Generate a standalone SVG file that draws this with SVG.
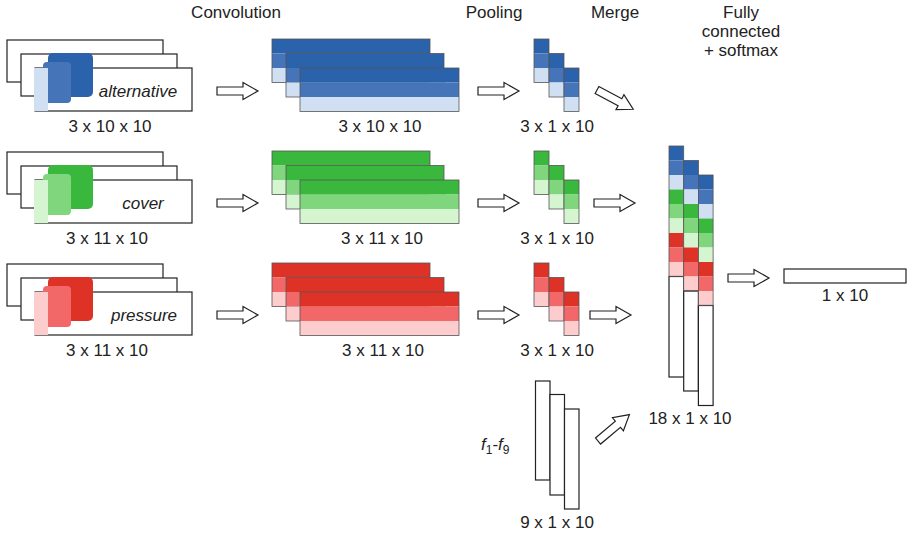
<svg xmlns="http://www.w3.org/2000/svg" width="908" height="537" viewBox="0 0 908 537">
<style>
text{font-family:"Liberation Sans",Arial,sans-serif;font-size:17px;fill:#222}
.c{text-anchor:middle}
.it{font-style:italic}
.box{fill:#fff;stroke:#222;stroke-width:1.2}
.arr{fill:#fff;stroke:#222;stroke-width:1.2;stroke-linejoin:miter}
.ol{fill:none;stroke:#555;stroke-width:0.8}
.b1{fill:#2A62AC}.b2{fill:#4674B9}.b3{fill:#D0E0F2}
.g1{fill:#3AB83E}.g2{fill:#80D67C}.g3{fill:#D5F4D0}
.r1{fill:#DE3226}.r2{fill:#F26868}.r3{fill:#FDCCCC}
</style>
<defs>
<path id="arrow" class="arr" d="M0,-4 H26 V-8.5 L41,0 L26,8.5 V4 H0 Z"/>
<g id="stk">
<rect x="0" y="0" width="158" height="14.5"/>
</g>
</defs>

<g id="headers">
<text class="c" x="236" y="18">Convolution</text>
<text class="c" x="494" y="18">Pooling</text>
<text class="c" x="615" y="18">Merge</text>
<text class="c" x="741" y="18">Fully</text>
<text class="c" x="741" y="37">connected</text>
<text class="c" x="741" y="56">+ softmax</text>
</g>

<!-- Row 1: alternative -->
<g id="input-alternative">
<rect class="box" x="7" y="40" width="156" height="42"/>
<rect class="box" x="21" y="54" width="156" height="42"/>
<rect class="box" x="35" y="68" width="157" height="43"/>
<rect class="b1" x="48" y="53" width="45" height="44" rx="5"/>
<rect class="b2" x="43" y="62" width="28" height="41" rx="4"/>
<rect class="b3" x="34" y="68" width="14" height="43"/>
<text class="c it" x="138" y="97">alternative</text>
<text class="c" x="110" y="132">3 x 10 x 10</text>
</g>
<g id="conv-alternative">
<g transform="translate(272,39)"><rect class="b1" width="158" height="14.5"/><rect class="b2" y="14.5" width="158" height="14.5"/><rect class="b3" y="29" width="158" height="14.5"/><rect class="ol" width="158" height="43.5"/></g>
<g transform="translate(286,53.5)"><rect class="b1" width="158" height="14.5"/><rect class="b2" y="14.5" width="158" height="14.5"/><rect class="b3" y="29" width="158" height="14.5"/><rect class="ol" width="158" height="43.5"/></g>
<g transform="translate(300,68)"><rect class="b1" width="159" height="14.5"/><rect class="b2" y="14.5" width="159" height="14.5"/><rect class="b3" y="29" width="159" height="14.5"/><rect class="ol" width="159" height="43.5"/></g>
<text class="c" x="380" y="132">3 x 10 x 10</text>
</g>
<g id="pool-alternative">
<g transform="translate(534,39)"><rect class="b1" width="15" height="14.5"/><rect class="b2" y="14.5" width="15" height="14.5"/><rect class="b3" y="29" width="15" height="14.5"/><rect class="ol" width="15" height="43.5"/></g>
<g transform="translate(549,53.5)"><rect class="b1" width="15" height="14.5"/><rect class="b2" y="14.5" width="15" height="14.5"/><rect class="b3" y="29" width="15" height="14.5"/><rect class="ol" width="15" height="43.5"/></g>
<g transform="translate(564,68)"><rect class="b1" width="15" height="14.5"/><rect class="b2" y="14.5" width="15" height="14.5"/><rect class="b3" y="29" width="15" height="14.5"/><rect class="ol" width="15" height="43.5"/></g>
<text class="c" x="557" y="132">3 x 1 x 10</text>
</g>

<!-- Row 2: cover -->
<g id="input-cover">
<rect class="box" x="7" y="152" width="156" height="42"/>
<rect class="box" x="21" y="166" width="156" height="42"/>
<rect class="box" x="35" y="180" width="157" height="43"/>
<rect class="g1" x="48" y="165" width="45" height="44" rx="5"/>
<rect class="g2" x="43" y="174" width="28" height="41" rx="4"/>
<rect class="g3" x="34" y="180" width="14" height="43"/>
<text class="c it" x="143" y="209">cover</text>
<text class="c" x="107" y="244">3 x 11 x 10</text>
</g>
<g id="conv-cover">
<g transform="translate(272,151)"><rect class="g1" width="158" height="14.5"/><rect class="g2" y="14.5" width="158" height="14.5"/><rect class="g3" y="29" width="158" height="14.5"/><rect class="ol" width="158" height="43.5"/></g>
<g transform="translate(286,165.5)"><rect class="g1" width="158" height="14.5"/><rect class="g2" y="14.5" width="158" height="14.5"/><rect class="g3" y="29" width="158" height="14.5"/><rect class="ol" width="158" height="43.5"/></g>
<g transform="translate(300,180)"><rect class="g1" width="159" height="14.5"/><rect class="g2" y="14.5" width="159" height="14.5"/><rect class="g3" y="29" width="159" height="14.5"/><rect class="ol" width="159" height="43.5"/></g>
<text class="c" x="382" y="244">3 x 11 x 10</text>
</g>
<g id="pool-cover">
<g transform="translate(534,151)"><rect class="g1" width="15" height="14.5"/><rect class="g2" y="14.5" width="15" height="14.5"/><rect class="g3" y="29" width="15" height="14.5"/><rect class="ol" width="15" height="43.5"/></g>
<g transform="translate(549,165.5)"><rect class="g1" width="15" height="14.5"/><rect class="g2" y="14.5" width="15" height="14.5"/><rect class="g3" y="29" width="15" height="14.5"/><rect class="ol" width="15" height="43.5"/></g>
<g transform="translate(564,180)"><rect class="g1" width="15" height="14.5"/><rect class="g2" y="14.5" width="15" height="14.5"/><rect class="g3" y="29" width="15" height="14.5"/><rect class="ol" width="15" height="43.5"/></g>
<text class="c" x="557" y="244">3 x 1 x 10</text>
</g>

<!-- Row 3: pressure -->
<g id="input-pressure">
<rect class="box" x="7" y="264" width="156" height="42"/>
<rect class="box" x="21" y="278" width="156" height="42"/>
<rect class="box" x="35" y="292" width="157" height="43"/>
<rect class="r1" x="48" y="277" width="45" height="44" rx="5"/>
<rect class="r2" x="43" y="286" width="28" height="41" rx="4"/>
<rect class="r3" x="34" y="292" width="14" height="43"/>
<text class="c it" x="144" y="321">pressure</text>
<text class="c" x="107" y="356">3 x 11 x 10</text>
</g>
<g id="conv-pressure">
<g transform="translate(272,263)"><rect class="r1" width="158" height="14.5"/><rect class="r2" y="14.5" width="158" height="14.5"/><rect class="r3" y="29" width="158" height="14.5"/><rect class="ol" width="158" height="43.5"/></g>
<g transform="translate(286,277.5)"><rect class="r1" width="158" height="14.5"/><rect class="r2" y="14.5" width="158" height="14.5"/><rect class="r3" y="29" width="158" height="14.5"/><rect class="ol" width="158" height="43.5"/></g>
<g transform="translate(300,292)"><rect class="r1" width="159" height="14.5"/><rect class="r2" y="14.5" width="159" height="14.5"/><rect class="r3" y="29" width="159" height="14.5"/><rect class="ol" width="159" height="43.5"/></g>
<text class="c" x="383" y="356">3 x 11 x 10</text>
</g>
<g id="pool-pressure">
<g transform="translate(534,263)"><rect class="r1" width="15" height="14.5"/><rect class="r2" y="14.5" width="15" height="14.5"/><rect class="r3" y="29" width="15" height="14.5"/><rect class="ol" width="15" height="43.5"/></g>
<g transform="translate(549,277.5)"><rect class="r1" width="15" height="14.5"/><rect class="r2" y="14.5" width="15" height="14.5"/><rect class="r3" y="29" width="15" height="14.5"/><rect class="ol" width="15" height="43.5"/></g>
<g transform="translate(564,292)"><rect class="r1" width="15" height="14.5"/><rect class="r2" y="14.5" width="15" height="14.5"/><rect class="r3" y="29" width="15" height="14.5"/><rect class="ol" width="15" height="43.5"/></g>
<text class="c" x="557" y="356">3 x 1 x 10</text>
</g>

<!-- Features f1-f9 -->
<g id="features">
<rect class="box" x="535.5" y="381" width="14.5" height="99"/>
<rect class="box" x="550" y="394.5" width="14.5" height="100.5"/>
<rect class="box" x="564.5" y="409" width="14.5" height="100"/>
<text x="481" y="450"><tspan class="it">f</tspan><tspan font-size="12" dy="4">1</tspan><tspan dy="-4">-</tspan><tspan class="it">f</tspan><tspan font-size="12" dy="4">9</tspan></text>
<text class="c" x="557" y="528">9 x 1 x 10</text>
</g>

<!-- Merge -->
<g id="merge">
<g transform="translate(669,146)">
<rect class="b1" width="14.7" height="14.5"/><rect class="b2" y="14.5" width="14.7" height="14.5"/><rect class="b3" y="29" width="14.7" height="14.5"/>
<rect class="g1" y="43.5" width="14.7" height="14.5"/><rect class="g2" y="58" width="14.7" height="14.5"/><rect class="g3" y="72.5" width="14.7" height="14.5"/>
<rect class="r1" y="87" width="14.7" height="14.5"/><rect class="r2" y="101.5" width="14.7" height="14.5"/><rect class="r3" y="116" width="14.7" height="14.5"/>
<rect class="box" y="130.5" width="14.7" height="100.5"/>
<rect class="ol" width="14.7" height="130.5"/>
</g>
<g transform="translate(683.7,160.5)">
<rect class="b1" width="14.7" height="14.5"/><rect class="b2" y="14.5" width="14.7" height="14.5"/><rect class="b3" y="29" width="14.7" height="14.5"/>
<rect class="g1" y="43.5" width="14.7" height="14.5"/><rect class="g2" y="58" width="14.7" height="14.5"/><rect class="g3" y="72.5" width="14.7" height="14.5"/>
<rect class="r1" y="87" width="14.7" height="14.5"/><rect class="r2" y="101.5" width="14.7" height="14.5"/><rect class="r3" y="116" width="14.7" height="14.5"/>
<rect class="box" y="130.5" width="14.7" height="100"/>
<rect class="ol" width="14.7" height="130.5"/>
</g>
<g transform="translate(698.4,175)">
<rect class="b1" width="14.7" height="14.5"/><rect class="b2" y="14.5" width="14.7" height="14.5"/><rect class="b3" y="29" width="14.7" height="14.5"/>
<rect class="g1" y="43.5" width="14.7" height="14.5"/><rect class="g2" y="58" width="14.7" height="14.5"/><rect class="g3" y="72.5" width="14.7" height="14.5"/>
<rect class="r1" y="87" width="14.7" height="14.5"/><rect class="r2" y="101.5" width="14.7" height="14.5"/><rect class="r3" y="116" width="14.7" height="14.5"/>
<rect class="box" y="130.5" width="14.7" height="100"/>
<rect class="ol" width="14.7" height="130.5"/>
</g>
<text class="c" x="690" y="424">18 x 1 x 10</text>
</g>

<!-- Output -->
<g id="output">
<rect class="box" x="784" y="269" width="122" height="14"/>
<text class="c" x="845" y="301">1 x 10</text>
</g>

<g id="connectors">
<use href="#arrow" transform="translate(217,91)"/>
<use href="#arrow" transform="translate(478,91)"/>
<use href="#arrow" transform="translate(597,90) rotate(28)"/>
<use href="#arrow" transform="translate(217,203)"/>
<use href="#arrow" transform="translate(478,203)"/>
<use href="#arrow" transform="translate(594,203)"/>
<use href="#arrow" transform="translate(217,315)"/>
<use href="#arrow" transform="translate(478,315)"/>
<use href="#arrow" transform="translate(590,315)"/>
<use href="#arrow" transform="translate(598,441) rotate(-40)"/>
<use href="#arrow" transform="translate(728,278)"/>
</g>
</svg>
